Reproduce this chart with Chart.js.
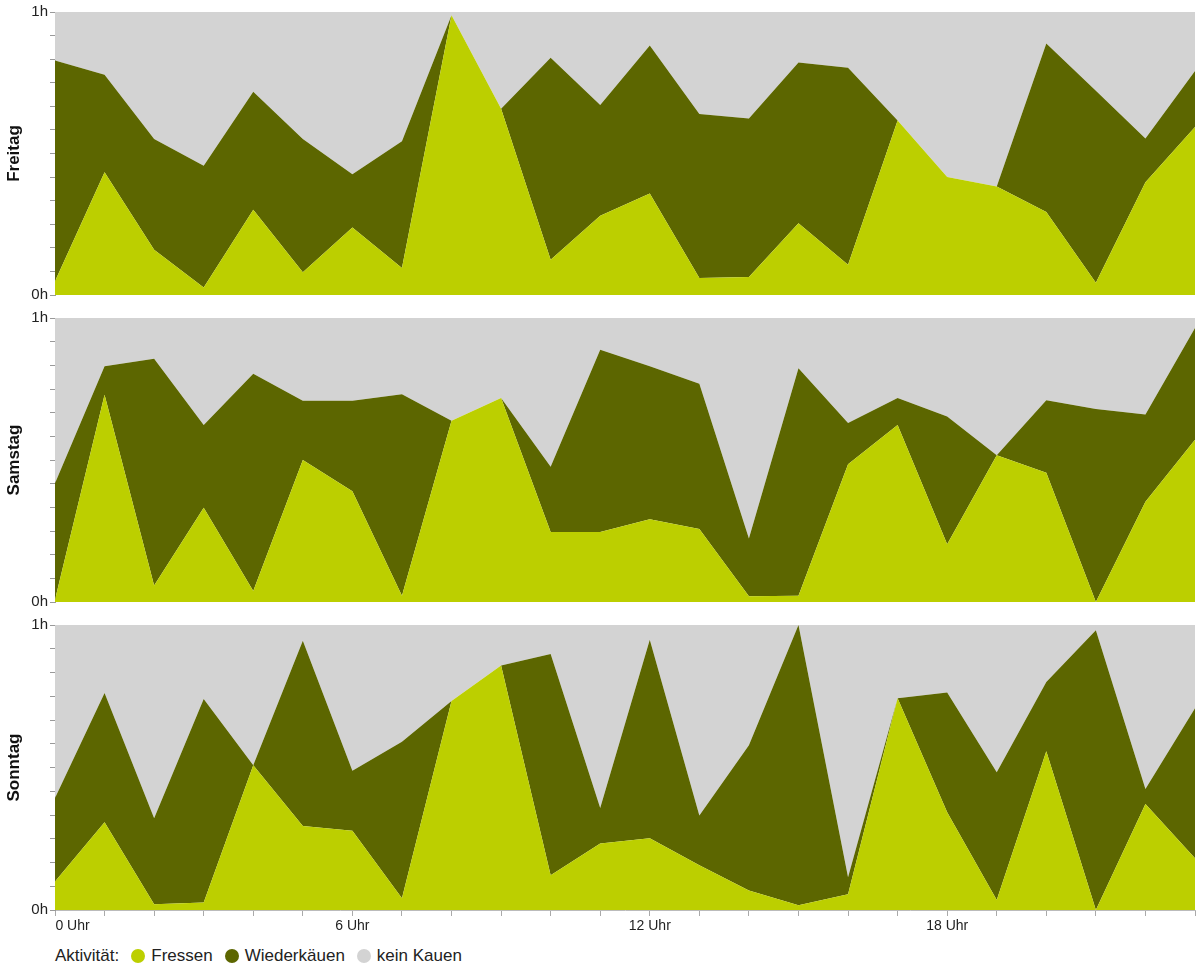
<!DOCTYPE html>
<html>
<head>
<meta charset="utf-8">
<script src="https://cdn.jsdelivr.net/npm/chart.js@4/dist/chart.umd.min.js"></script>
<style>
  html, body { margin: 0; padding: 0; background: #fff; }
  body { width: 1200px; height: 970px; position: relative; overflow: hidden;
         font-family: "Liberation Sans", Arial, sans-serif; color: #222; }
  .panel { position: absolute; left: 0; width: 1200px; }
  #legend { position: absolute; left: 55px; top: 946px; font-size: 17px; display: flex; align-items: center; }
  #legend .dot { display: inline-block; width: 14px; height: 14px; border-radius: 50%; margin: 0 6px 0 12px; }
</style>
</head>
<body>
<div class="panel" id="p0" style="top:0px;height:306px"><canvas id="c0"></canvas></div>
<div class="panel" id="p1" style="top:306px;height:307px"><canvas id="c1"></canvas></div>
<div class="panel" id="p2" style="top:613px;height:327px"><canvas id="c2"></canvas></div>
<div id="legend">
  <span>Aktivität:</span>
  <span class="dot" style="background:#bccf00"></span><span>Fressen</span>
  <span class="dot" style="background:#5c6600"></span><span>Wiederkäuen</span>
  <span class="dot" style="background:#d3d3d3"></span><span>kein Kauen</span>
</div>
<script>
// minutes per hour spent on each activity, hour 0..23
const HOURS = [0, 1, 2, 3, 4, 5, 6, 7, 8, 9, 10, 11, 12, 13, 14, 15, 16, 17, 18, 19, 20, 21, 22, 23];
const DAYS = ["Freitag", "Samstag", "Sonntag"];

const fressenFr = [2.9, 26.0, 9.6, 1.6, 18.1, 4.8, 14.3, 5.7, 59.3, 39.5, 7.5, 16.8, 21.5, 3.6, 3.8, 15.2, 6.4, 37.0, 25.0, 23.0, 17.6, 2.6, 23.9, 35.6];
const wiederFr  = [46.8, 20.7, 23.5, 25.8, 25.0, 28.3, 11.3, 26.9, 0, 0, 42.8, 23.5, 31.4, 34.8, 33.6, 34.1, 41.8, 0, 0, 0, 35.7, 40.7, 9.3, 11.9];

const fressenSa = [0.5, 43.8, 3.5, 19.9, 2.3, 30.0, 23.4, 1.3, 38.3, 43.1, 14.8, 14.8, 17.5, 15.4, 1.2, 1.3, 29.1, 37.4, 12.2, 31.0, 27.3, 0, 21.2, 34.3];
const wiederSa  = [24.6, 6.0, 47.9, 17.5, 45.9, 12.5, 19.1, 42.6, 0, 0, 13.8, 38.5, 32.3, 30.7, 12.2, 48.1, 8.7, 5.7, 27.0, 0, 15.3, 40.8, 18.4, 23.6];

const fressenSo = [6.0, 18.5, 1.2, 1.6, 30.5, 17.7, 16.7, 2.5, 44.0, 51.5, 7.3, 14.0, 15.1, 9.4, 4.1, 1.0, 3.3, 44.6, 20.6, 2.1, 33.4, 0, 22.3, 10.9];
const wiederSo  = [17.6, 27.2, 18.1, 42.8, 0, 39.0, 12.6, 32.9, 0, 0, 46.6, 7.5, 41.8, 10.5, 30.6, 59.0, 3.6, 0, 25.2, 26.9, 14.6, 58.9, 3.2, 31.6];

const COLORS = { fressen: "#bccf00", wieder: "#5c6600", kein: "#d3d3d3" };

Chart.defaults.font.family = '"Liberation Sans", Arial, sans-serif';
Chart.defaults.font.size = 15;
Chart.defaults.color = "#333";

function area(label, data, color, fill) {
  return {
    label, data, fill,
    backgroundColor: color,
    borderColor: color,
    borderWidth: 0,
    pointRadius: 0,
    tension: 0
  };
}

function makePanel(idx, fressen, wieder) {
  const kein = fressen.map((f, i) => Math.max(0, 60 - f - wieder[i]));
  const last = idx === 2;
  new Chart(document.getElementById("c" + idx), {
    type: "line",
    data: {
      labels: HOURS,
      datasets: [
        area("Fressen", fressen, COLORS.fressen, "origin"),
        area("Wiederkäuen", wieder, COLORS.wieder, "-1"),
        area("kein Kauen", kein, COLORS.kein, "-1")
      ]
    },
    options: {
      responsive: true,
      maintainAspectRatio: false,
      animation: false,
      layout: { padding: { top: 12, right: 5, bottom: last ? 0 : 10, left: 0 } },
      plugins: { legend: { display: false }, tooltip: { enabled: false } },
      scales: {
        x: {
          display: last,
          offset: false,
          grid: { drawOnChartArea: false, drawTicks: true, tickLength: 6, color: "#aaa" },
          border: { display: true, color: "#bbb" },
          ticks: {
            autoSkip: false, maxRotation: 0, padding: 2, color: "#222", font: { size: 14 },
            callback: (v, i) => i === 0 ? "         0 Uhr" : (i % 6 === 0 ? i + " Uhr" : "")
          },
          afterFit: s => { if (last) s.height = 30; }
        },
        y: {
          stacked: true,
          min: 0, max: 60,
          grid: { drawOnChartArea: false, drawTicks: true, tickLength: 5, color: "#999" },
          border: { display: true, color: "#999" },
          ticks: {
            stepSize: 5, padding: 2, color: "#222",
            callback: v => v === 0 ? "0h" : (v === 60 ? "1h" : "")
          },
          title: { display: true, text: DAYS[idx], font: { size: 17, weight: "bold" }, color: "#111", padding: { top: 4, bottom: 0 } },
          afterFit: s => { s.width = 55; }
        }
      }
    }
  });
}

makePanel(0, fressenFr, wiederFr);
makePanel(1, fressenSa, wiederSa);
makePanel(2, fressenSo, wiederSo);
</script>
</body>
</html>
